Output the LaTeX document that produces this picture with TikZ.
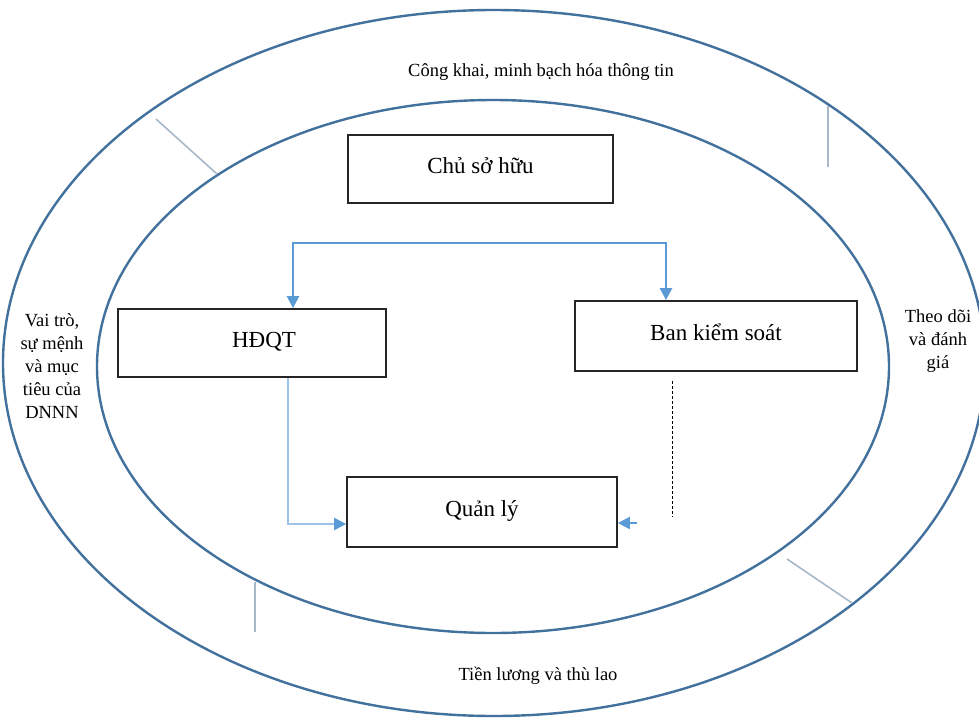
\documentclass[tikz,border=0pt]{standalone}
\usepackage{fontspec}
\setmainfont{Liberation Serif}
\usetikzlibrary{arrows.meta}
\definecolor{ringblue}{HTML}{41719C}
\definecolor{arrblue}{HTML}{5B9BD5}
\definecolor{liteblue}{HTML}{9DC3E6}
\definecolor{sepgray}{HTML}{A9B8C8}
\definecolor{boxline}{HTML}{262626}
\tikzset{
  ring/.style={draw=ringblue, line width=2.4pt},
  box/.style={draw=boxline, line width=1.8pt, rectangle, fill=white, inner sep=0pt, font=\fontsize{23}{27}\selectfont, text height=17pt, text depth=8pt},
  sep/.style={draw=sepgray, line width=1.6pt},
  tip/.tip={Triangle[length=12pt,width=12pt,color=arrblue]},
  flow/.style={draw=arrblue, line width=2.4pt, -tip},
  liteflow/.style={draw=liteblue, line width=2.2pt, -tip},
  ringtext/.style={font=\fontsize{18.5}{23}\selectfont, align=center, inner sep=0pt}
}
\begin{document}
\begin{tikzpicture}[x=1pt,y=-1pt]
\useasboundingbox (0,0) rectangle (979,720);
\fill[white] (0,0) rectangle (979,720);
% rings
\draw[ring] (494,363) ellipse [x radius=491pt, y radius=353pt];
\draw[ring] (493,366.5) ellipse [x radius=396pt, y radius=266.5pt];
% separators between rings
\coordinate (s1a) at (156,119); \coordinate (s1b) at (217,174);
\coordinate (s2a) at (828,106); \coordinate (s2b) at (828,167);
\coordinate (s3a) at (787,559); \coordinate (s3b) at (852,603);
\coordinate (s4a) at (255,582); \coordinate (s4b) at (255,632);
\draw[sep] (s1a) -- (s1b);
\draw[sep] (s2a) -- (s2b);
\draw[sep] (s3a) -- (s3b);
\draw[sep] (s4a) -- (s4b);
% ring texts
\node[ringtext] (top) at (541,72) {Công khai, minh bạch hóa thông tin};
\node[ringtext] (bot) at (538,676) {Tiền lương và thù lao};
\node[ringtext] (left) at (52,366) {Vai trò,\\sự mệnh\\và mục\\tiêu của\\DNNN};
\node[ringtext] (right) at (938,341) {Theo dõi\\và đánh\\giá};
% boxes
\node[box, minimum width=265pt, minimum height=68pt] (chu) at (480.5,169) {Chủ sở hữu};
\node[box, minimum width=268pt, minimum height=68pt] (hdqt) at (252,343) {\hspace*{24pt}HĐQT};
\node[box, minimum width=282pt, minimum height=70pt] (bks) at (716,336) {Ban kiểm soát};
\node[box, minimum width=270pt, minimum height=70pt] (ql) at (482,512) {Quản lý};
% connectors
\coordinate (tl) at (293,243);
\coordinate (tr) at (666,243);
\draw[flow, tip-tip] (tl |- hdqt.north) -- (tl) -- (tr) -- (tr |- bks.north);
\coordinate (hq) at (288,524);
\draw[liteflow] (hq |- hdqt.south) -- (hq) -- (hq -| ql.west);
\coordinate (d1) at (672,381);
\coordinate (d2) at (672,517);
\draw[black, line width=1pt, dash pattern=on 3pt off 2pt] (d1) -- (d2);
\coordinate (ra) at (637,523);
\draw[flow] (ra) -- (ra -| ql.east);
\end{tikzpicture}
\end{document}
